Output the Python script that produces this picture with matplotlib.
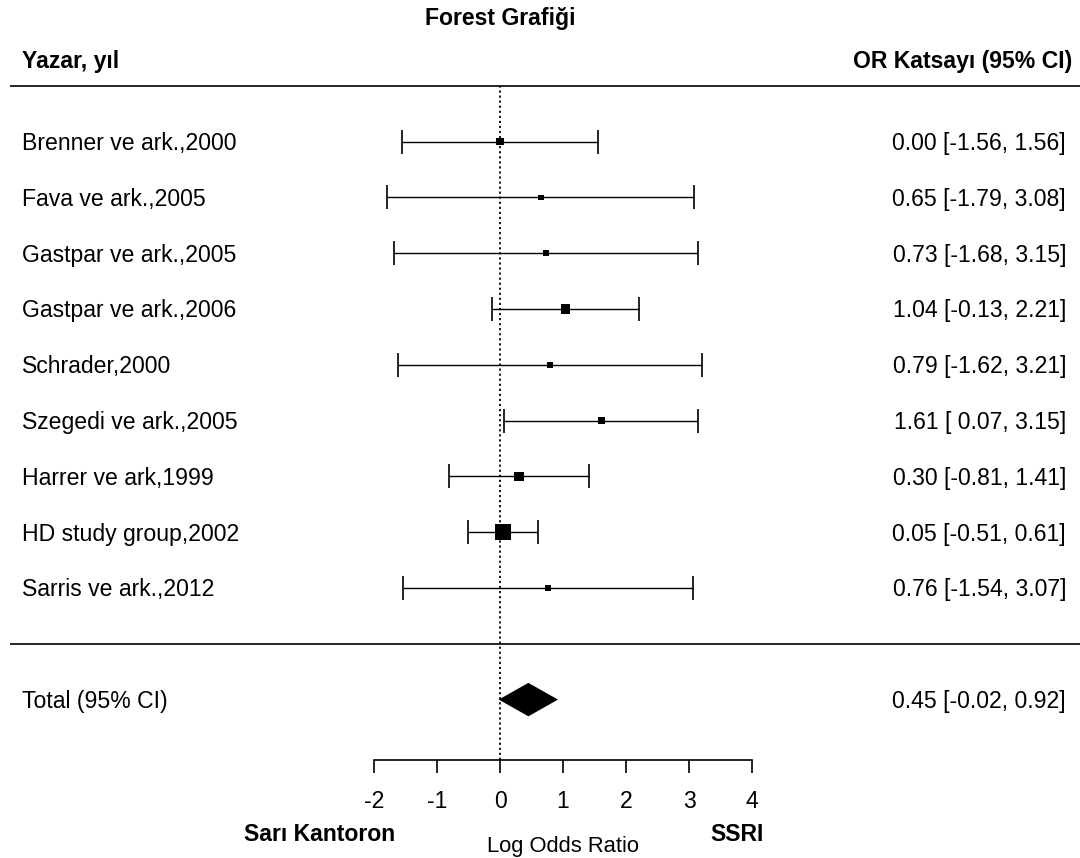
import numpy as np
import matplotlib
matplotlib.use("Agg")
import matplotlib.pyplot as plt

plt.rcParams['font.family'] = ['Liberation Sans', 'DejaVu Sans']

# veriler (log odds ratio, %95 GA)
studies = ["Brenner ve ark.,2000", "Fava ve ark.,2005", "Gastpar ve ark.,2005",
           "Gastpar ve ark.,2006", "Schrader,2000", "Szegedi ve ark.,2005",
           "Harrer ve ark,1999", "HD study group,2002", "Sarris ve ark.,2012"]
est = np.array([0.00, 0.65, 0.73, 1.04, 0.79, 1.61, 0.30, 0.05, 0.76])
lower = np.array([-1.56, -1.79, -1.68, -0.13, -1.62, 0.07, -0.81, -0.51, -1.54])
upper = np.array([1.56, 3.08, 3.15, 2.21, 3.21, 3.15, 1.41, 0.61, 3.07])
total_est, total_lb, total_ub = 0.45, -0.02, 0.92
ticks = [-2, -1, 0, 1, 2, 3, 4]

k = len(studies)
rows = np.arange(k, 0, -1)

# kare boyutlari: metafor tarzi, 1/se ile olcekli
se = (upper - lower) / (2 * 1.96)
wi = 1 / se
psize = (wi - wi.min()) / (wi.max() - wi.min()) + 0.5

fig = plt.figure(figsize=(10.8, 8.58), dpi=100)
ax = fig.add_axes([0, 0, 1, 1])
ax.set_xlim(-7.937, 9.206)
ax.set_ylim(-3.839, 11.538)

fs = 16.6
dy = -0.035  # metin kaydirma

# cizgiler
ax.hlines(10, -7.78, 9.206, color='black', lw=1.2)
ax.hlines(0, -7.78, 9.206, color='black', lw=1.2)
ax.vlines(0, -2.08, 10, color='black', lw=1.3, linestyles=(0, (1.2, 1.6)))

ax.errorbar(est, rows, xerr=[est - lower, upper - est], fmt='none',
            ecolor='black', elinewidth=1, capsize=8.3, capthick=1.2)
ax.scatter(est, rows, s=(7.9 * psize) ** 2, marker='s', color='black',
           linewidths=0, zorder=3)

h = 0.3
ax.fill([total_lb, total_est, total_ub, total_est], [-1, -1 + h, -1, -1 - h],
        color='black', lw=0)

# yazilar
for r, name, e, lb, ub in zip(rows, studies, est, lower, upper):
    ax.text(-7.587, r + dy, name, ha='left', va='center', fontsize=fs)
    ax.text(8.984, r + dy, f"{e:.2f} [{lb:5.2f}, {ub:.2f}]", ha='right',
            va='center', fontsize=fs)
ax.text(-7.587, -1 + dy, "Total (95% CI)", ha='left', va='center', fontsize=fs)
ax.text(8.984, -1 + dy, f"{total_est:.2f} [{total_lb:5.2f}, {total_ub:.2f}]",
        ha='right', va='center', fontsize=fs)

ax.text(-7.587, 10.44, "Yazar, yıl", ha='left', va='center', fontsize=fs,
        fontweight='bold')
ax.text(9.08, 10.44, "OR Katsayı (95% CI)", ha='right', va='center',
        fontsize=fs, fontweight='bold')
ax.text(0, 11.2, "Forest Grafiği", ha='center', va='center', fontsize=fs,
        fontweight='bold')

ax.text(-2.86, -3.41, "Sarı Kantoron", ha='center', va='center', fontsize=fs,
        fontweight='bold')
ax.text(3.76, -3.41, "SSRI", ha='center', va='center', fontsize=fs,
        fontweight='bold')
ax.text(1, -3.64, "Log Odds Ratio", ha='center', va='center', fontsize=15.8)

# x ekseni
for s in ['left', 'right', 'top']:
    ax.spines[s].set_visible(False)
ax.spines['bottom'].set_position(('data', -2.08))
ax.spines['bottom'].set_bounds(ticks[0], ticks[-1])
ax.spines['bottom'].set_linewidth(1.2)
ax.set_xticks(ticks)
ax.set_xticklabels([str(t) for t in ticks])
ax.tick_params(axis='x', direction='out', length=9.4, width=1.2,
               labelsize=fs, pad=12)
ax.set_yticks([])

fig.savefig("out.png", dpi=100, facecolor='white')
